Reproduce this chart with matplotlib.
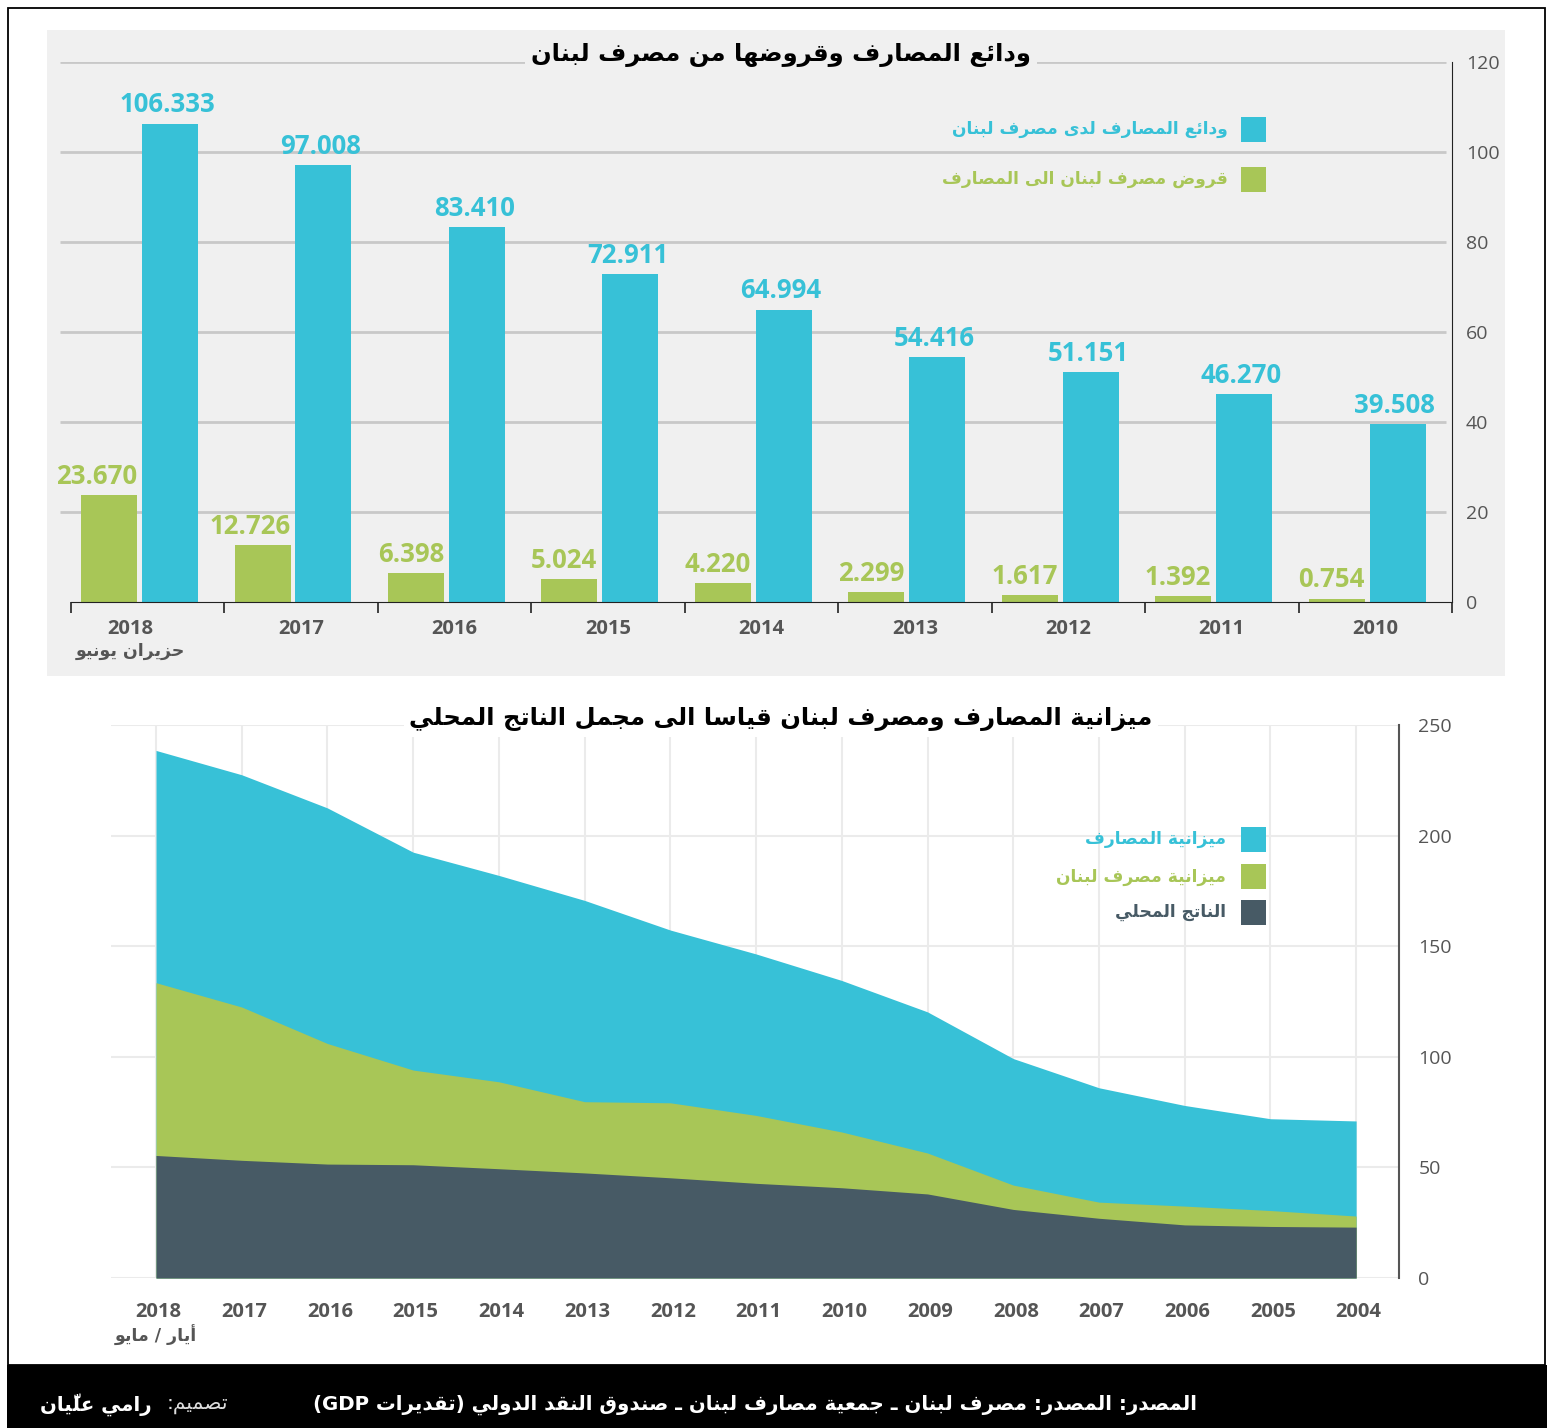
import numpy as np
import matplotlib.pyplot as plt
from matplotlib.patches import Rectangle

plt.rcParams['font.family'] = ['Open Sans', 'DejaVu Sans']

# ---- data: top chart (bars) ----
years_top = ['2018', '2017', '2016', '2015', '2014', '2013', '2012', '2011', '2010']
deposits = [106.333, 97.008, 83.410, 72.911, 64.994, 54.416, 51.151, 46.270, 39.508]
loans = [23.670, 12.726, 6.398, 5.024, 4.220, 2.299, 1.617, 1.392, 0.754]

# ---- data: bottom chart (areas) ----
years_bot = ['2018', '2017', '2016', '2015', '2014', '2013', '2012', '2011',
             '2010', '2009', '2008', '2007', '2006', '2005', '2004']
banks = [238.5, 227.5, 212.5, 192.5, 182.0, 170.7, 157.3, 146.5, 134.5, 120.3, 99.2, 86.0, 78.0, 72.0, 71.0]
bdl = [133.5, 122.5, 106.0, 94.0, 88.7, 79.7, 79.2, 73.5, 66.0, 56.5, 42.0, 34.3, 32.5, 30.5, 28.0]
gdp = [55.4, 53.2, 51.5, 51.2, 49.4, 47.5, 45.3, 42.8, 40.8, 38.0, 31.0, 27.0, 24.0, 23.3, 23.0]

CYAN = '#37c1d7'
GREEN = '#a8c657'
DARK = '#475a65'
GREY = '#555555'
AFONT = 'DejaVu Sans'

# ---- minimal arabic shaping (presentation forms + reversed order) ----
AR_FORMS = {'ء': (0xFE80, 1), 'آ': (0xFE81, 2), 'أ': (0xFE83, 2), 'ؤ': (0xFE85, 2), 'إ': (0xFE87, 2),
            'ئ': (0xFE89, 4), 'ا': (0xFE8D, 2), 'ب': (0xFE8F, 4), 'ة': (0xFE93, 2), 'ت': (0xFE95, 4),
            'ث': (0xFE99, 4), 'ج': (0xFE9D, 4), 'ح': (0xFEA1, 4), 'خ': (0xFEA5, 4), 'د': (0xFEA9, 2),
            'ذ': (0xFEAB, 2), 'ر': (0xFEAD, 2), 'ز': (0xFEAF, 2), 'س': (0xFEB1, 4), 'ش': (0xFEB5, 4),
            'ص': (0xFEB9, 4), 'ض': (0xFEBD, 4), 'ط': (0xFEC1, 4), 'ظ': (0xFEC5, 4), 'ع': (0xFEC9, 4),
            'غ': (0xFECD, 4), 'ف': (0xFED1, 4), 'ق': (0xFED5, 4), 'ك': (0xFED9, 4), 'ل': (0xFEDD, 4),
            'م': (0xFEE1, 4), 'ن': (0xFEE5, 4), 'ه': (0xFEE9, 4), 'و': (0xFEED, 2), 'ى': (0xFEEF, 2),
            'ي': (0xFEF1, 4)}
LAM_ALEF = {'ا': 0xFEFB, 'أ': 0xFEF7, 'إ': 0xFEF9, 'آ': 0xFEF5}
MARKS = set(chr(c) for c in range(0x064B, 0x0660)) | {'\u0670'}
MIRROR = {'(': ')', ')': '('}


def nforms(c):
    if len(c) == 2:
        return 2
    if c == 'ـ':
        return 4
    return AR_FORMS[c][1] if c in AR_FORMS else 0


def ar(text):
    cl = []
    for ch in text:
        if ch in MARKS and cl:
            cl[-1][1] += ch
        elif ch in LAM_ALEF and cl and cl[-1][0] == 'ل' and not cl[-1][1]:
            cl[-1][0] = 'ل' + ch
        else:
            cl.append([ch, ''])
    out = []
    for i, (c, m) in enumerate(cl):
        n = nforms(c)
        prev = i > 0 and nforms(cl[i - 1][0]) == 4 and n >= 2
        nxt = i < len(cl) - 1 and n == 4 and nforms(cl[i + 1][0]) >= 2
        if n == 0 or c == 'ـ':
            g = MIRROR.get(c, c)
        elif len(c) == 2:
            g = chr(LAM_ALEF[c[1]] + (1 if prev else 0))
        elif n == 4:
            g = chr(AR_FORMS[c][0] + (3 if prev and nxt else 1 if prev else 2 if nxt else 0))
        else:
            g = chr(AR_FORMS[c][0] + (1 if prev else 0))
        out.append(g + m)
    return ''.join(reversed(out))


W, H = 1555, 1428
fig = plt.figure(figsize=(W / 100, H / 100), dpi=100)


def fx(x):
    return x / W


def fy(y):
    return 1 - y / H


def rect(x0, y0, x1, y1, **kw):
    fig.add_artist(Rectangle((fx(x0), fy(y1)), (x1 - x0) / W, (y1 - y0) / H,
                             transform=fig.transFigure, **kw))


# backgrounds, frame, footer
rect(47, 30, 1505, 676, facecolor='#f0f0f0', edgecolor='none', zorder=-5)
rect(8, 8, 1545, 1365, facecolor='none', edgecolor='black', lw=1.3, zorder=-4)
rect(7, 1365, 1547, 1428, facecolor='black', edgecolor='none', zorder=-3)

# ================= top chart =================
ax1 = fig.add_axes([fx(60), fy(602), 1392 / W, 540 / H])
ax1.set_facecolor('none')
x = np.arange(len(years_top))
ax1.hlines([20, 40, 60, 80, 100, 120], -0.072, 8.963, color='#c8c8c8', lw=2, zorder=0)
ax1.bar(x + 0.248, loans, width=0.365, color=GREEN, zorder=2)
ax1.bar(x + 0.645, deposits, width=0.365, color=CYAN, zorder=2)
for i in range(len(x)):
    ax1.annotate(f'{deposits[i]:.3f}', (x[i] + 0.645, deposits[i]), xytext=(-2, 8),
                 textcoords='offset points', ha='center', va='baseline',
                 color=CYAN, fontsize=18.5, fontweight='bold')
    ax1.annotate(f'{loans[i]:.3f}', (x[i] + 0.43, loans[i]), xytext=(0, 8),
                 textcoords='offset points', ha='right', va='baseline',
                 color=GREEN, fontsize=18.5, fontweight='bold')
ax1.set_xlim(-0.072, 9)
ax1.set_ylim(0, 120)
ax1.spines['top'].set_visible(False)
ax1.spines['left'].set_visible(False)
ax1.spines['bottom'].set_bounds(0, 9)
ax1.spines['bottom'].set_color('#222222')
ax1.spines['right'].set_color('#222222')
ax1.set_xticks(range(10))
ax1.set_xticklabels([])
ax1.tick_params(axis='x', length=8, width=1.2, color='#222222', direction='out')
ax1.yaxis.tick_right()
ax1.set_yticks(range(0, 121, 20))
ax1.tick_params(axis='y', length=0, pad=10, labelsize=14, labelcolor=GREY)
for i, yr in enumerate(years_top):
    xc = 0.385 if i == 0 else i + 0.5
    ax1.text(xc, -5.9, yr, ha='center', va='center', fontsize=14.5,
             fontweight='bold', color=GREY)
ax1.text(0.385, -10.8, ar('حزيران يونيو'), ha='center', va='center', fontsize=12.5,
         fontweight='bold', color=GREY, family=AFONT)

fig.text(fx(781), fy(55), ar('ودائع المصارف وقروضها من مصرف لبنان'), ha='center', va='center',
         fontsize=17.5, fontweight='bold', family=AFONT, color='black',
         bbox=dict(facecolor='#f0f0f0', edgecolor='none', pad=4))

# legend top
for yc, lab, col in [(129.5, 'ودائع المصارف لدى مصرف لبنان', CYAN),
                     (179.5, 'قروض مصرف لبنان الى المصارف', GREEN)]:
    rect(1241, yc - 12.5, 1266, yc + 12.5, facecolor=col, edgecolor='none', zorder=3)
    fig.text(fx(1228), fy(yc), ar(lab), ha='right', va='center', fontsize=12.3,
             fontweight='bold', color=col, family=AFONT)

# ================= bottom chart =================
ax2 = fig.add_axes([fx(111), fy(1278), 1288 / W, 553 / H])
ax2.set_facecolor('none')
xb = np.arange(len(years_bot))
ax2.fill_between(xb, banks, color=CYAN, lw=0, zorder=2)
ax2.fill_between(xb, bdl, color=GREEN, lw=0, zorder=3)
ax2.fill_between(xb, gdp, color=DARK, lw=0, zorder=4)
ax2.set_xlim(-0.525, 14.5)
ax2.set_ylim(0, 250)
ax2.set_xticks(xb)
ax2.set_xticklabels([])
ax2.set_yticks(range(0, 251, 50))
ax2.grid(True, color='#ebebeb', lw=1.5, zorder=0)
ax2.set_axisbelow(True)
for s in ['top', 'left', 'bottom']:
    ax2.spines[s].set_visible(False)
ax2.spines['right'].set_color(GREY)
ax2.spines['right'].set_linewidth(1.5)
ax2.yaxis.tick_right()
ax2.tick_params(axis='x', length=0)
ax2.tick_params(axis='y', length=0, pad=14, labelsize=14, labelcolor=GREY)
for i, yr in enumerate(years_bot):
    ax2.text(i + 0.03, -15.2, yr, ha='center', va='center', fontsize=14.5, fontweight='bold', color=GREY)
ax2.text(0, -26, ar('أيار / مايو'), ha='center', va='center', fontsize=12.5,
         fontweight='bold', color=GREY, family=AFONT)

fig.text(fx(781), fy(719), ar('ميزانية المصارف ومصرف لبنان قياسا الى مجمل الناتج المحلي'),
         ha='center', va='center', fontsize=17.5, fontweight='bold', family=AFONT, color='black',
         bbox=dict(facecolor='white', edgecolor='none', pad=4))

for yc, lab, col in [(839.5, 'ميزانية المصارف', CYAN),
                     (876.5, 'ميزانية مصرف لبنان', GREEN),
                     (912.5, 'الناتج المحلي', DARK)]:
    rect(1241, yc - 12.5, 1266, yc + 12.5, facecolor=col, edgecolor='none', zorder=3)
    fig.text(fx(1226), fy(yc), ar(lab), ha='right', va='center', fontsize=12.3,
             fontweight='bold', color=col, family=AFONT)

# ================= footer =================
src = '(GDP ' + ar('تقديرات') + ') ' + ar('المصدر: المصدر: مصرف لبنان ـ جمعية مصارف لبنان ـ صندوق النقد الدولي')
fig.text(fx(1197), fy(1405), src, ha='right', va='center', fontsize=14.2,
         fontweight='bold', color='white', family=AFONT)
fig.text(fx(228), fy(1405), ':' + ar('تصميم'), ha='right', va='center', fontsize=14.5,
         color='#dddddd', family=AFONT)
fig.text(fx(152), fy(1405), ar('رامي عليّان'), ha='right', va='center', fontsize=14.2,
         fontweight='bold', color='white', family=AFONT)

fig.savefig('out.png', dpi=100)
